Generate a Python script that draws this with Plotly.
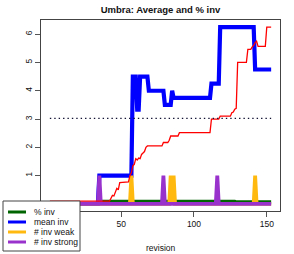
import plotly.graph_objects as go

# ---------------- data ----------------
title_text = "Umbra: Average and % inv"
x_label = "revision"
legend_names = ["% inv", "mean inv", "# inv weak", "# inv strong"]

x_ticks = [50, 100, 150]
y_ticks = [1, 2, 3, 4, 5, 6]

pct_x = [1, 34, 35, 36, 128, 129, 153]
pct_y = [0, 0, 0.1, 0.08, 0.08, 0.06, 0.06]

mean_x = [1, 34, 35, 57, 58, 60, 61, 62, 63, 68, 69, 79, 80, 84, 85, 86,
          111, 112, 117, 118, 141, 142, 153]
mean_y = [0, 0, 1, 1, 4.5, 4.5, 3.33, 3.33, 4.5, 4.5, 4.0, 4.0, 3.5, 3.5, 4.0, 3.75,
          3.75, 4.25, 4.25, 6.25, 6.25, 4.75, 4.75]

weak_x = [1, 56, 57, 58, 83, 84, 85, 86, 87, 141, 142, 143, 153]
weak_y = [0, 0, 1, 0, 0, 1, 0, 1, 0, 0, 1, 0, 0]

strong_x = [1, 34, 35, 36, 78, 79, 80, 115, 116, 117, 153]
strong_y = [0, 0, 1, 0, 0, 1, 0, 0, 1, 0, 0]

avg_x = [1, 42, 43, 44, 45, 46, 47, 48, 49, 55, 56, 57, 58, 59, 60, 61, 62, 63, 64,
         65, 66, 67, 68, 78, 79, 82, 83, 84, 89, 90, 111, 112, 117, 118, 125, 126,
         127, 128, 129, 130, 136, 137, 139, 140, 141, 142, 143, 144, 149, 150, 153]
avg_y = [0.1, 0.1, 0.2, 0.3, 0.28, 0.45, 0.55, 0.5, 0.75, 0.78, 1.0, 1.1, 1.35, 1.4,
         1.6, 1.55, 1.62, 1.6, 1.75, 1.8, 1.85, 2.0, 2.05, 2.05, 2.17, 2.17, 2.25, 2.4,
         2.4, 2.52, 2.52, 3.0, 3.0, 3.1, 3.1, 3.22, 3.25, 3.35, 3.38, 5.0, 5.0, 5.46,
         5.46, 5.55, 5.6, 5.7, 5.75, 5.57, 5.57, 6.25, 6.25]

threshold_x = [1, 153]
threshold_y = [3.02, 3.02]

# ---------------- styling ----------------
GREEN, BLUE, ORANGE, PURPLE, RED = "#006400", "#0000FF", "#FFB90F", "#9932CC", "#FF0000"
FONT = "Liberation Sans, Arial, Helvetica, sans-serif"
W, H = 294, 254
L, R, T, B = 41, 280, 20, 211


def px(x):
    return (x - L) / (R - L)


def py(y):
    return (B - y) / (B - T)


fig = go.Figure()
thick = 3.8
fig.add_trace(go.Scatter(x=pct_x, y=pct_y, mode="lines", line=dict(color=GREEN, width=thick), name=legend_names[0]))
fig.add_trace(go.Scatter(x=mean_x, y=mean_y, mode="lines", line=dict(color=BLUE, width=4.2), name=legend_names[1]))
fig.add_trace(go.Scatter(x=weak_x, y=weak_y, mode="lines", line=dict(color=ORANGE, width=thick), name=legend_names[2]))
fig.add_trace(go.Scatter(x=strong_x, y=strong_y, mode="lines", line=dict(color=PURPLE, width=thick), name=legend_names[3]))
fig.add_trace(go.Scatter(x=avg_x, y=avg_y, mode="lines", line=dict(color=RED, width=1.3), name="average"))
fig.add_trace(go.Scatter(x=threshold_x, y=threshold_y, mode="lines",
                         line=dict(color="#111133", width=1.3, dash="1.4px,3px"), name="threshold"))

# ---------------- legend box (drawn above the plot) ----------------
shapes = [dict(type="rect", xref="paper", yref="paper", x0=px(3), x1=px(80), y0=py(201), y1=py(251),
               fillcolor="white", line=dict(color="#444444", width=1), layer="above")]
annotations = []
colors = [GREEN, BLUE, ORANGE, PURPLE]
rows = [212, 222, 232, 242]
for name, c, ry in zip(legend_names, colors, rows):
    shapes.append(dict(type="line", xref="paper", yref="paper", x0=px(8), x1=px(26), y0=py(ry), y1=py(ry),
                       line=dict(color=c, width=3), layer="above"))
    annotations.append(dict(xref="paper", yref="paper", x=px(32), y=py(ry), text=name, showarrow=False,
                            xanchor="left", yanchor="middle", font=dict(family=FONT, size=8.5, color="#111")))

annotations.append(dict(xref="paper", yref="paper", x=0.5, y=py(248), text=x_label, showarrow=False,
                        xanchor="center", yanchor="middle", font=dict(family=FONT, size=8.5, color="#111")))

fig.update_layout(
    width=W, height=H,
    margin=dict(l=L, r=W - R, t=T, b=H - B),
    paper_bgcolor="white", plot_bgcolor="white",
    showlegend=False,
    title=dict(text=title_text, x=0.5, xref="paper", xanchor="center",
               y=1 - 10 / H, yref="container", yanchor="middle",
               font=dict(family=FONT, size=9.5, color="#111", weight="bold")),
    font=dict(family=FONT, size=8.5, color="#111"),
    shapes=shapes,
    annotations=annotations,
)
fig.update_xaxes(range=[-5.08, 159.08], tickvals=x_ticks, ticks="outside", ticklen=5, tickcolor="#555",
                 showline=True, linecolor="#444", linewidth=1, mirror=True, showgrid=False, zeroline=False,
                 tickfont=dict(family=FONT, size=8.5, color="#111"))
fig.update_yaxes(range=[-0.25, 6.5], tickvals=y_ticks, ticks="outside", ticklen=5, tickcolor="#555",
                 showline=True, linecolor="#444", linewidth=1, mirror=True, showgrid=False, zeroline=False,
                 tickangle=-90, tickfont=dict(family=FONT, size=8.5, color="#111"))

fig.write_html("out.html",
               config={"displayModeBar": False},
               post_script="document.body.style.margin='0';document.body.style.padding='0';"
                           "document.documentElement.style.overflow='hidden';")
